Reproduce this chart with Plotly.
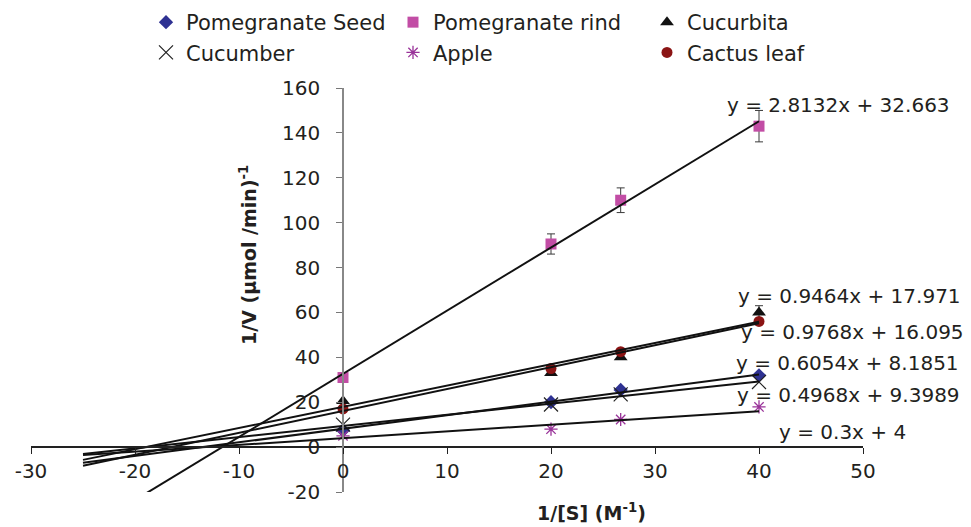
import plotly.graph_objects as go

# Lineweaver-Burk data: 1/[S] (M^-1) against 1/V for each enzyme source
inv_s = [0, 20, 26.7, 40]

seed = [7.5, 20, 25.5, 32]
rind = [31, 90.5, 110, 143]
cucurbita = [20.5, 33, 40, 60]
cucumber = [10, 19, 23.5, 29]
apple = [5, 8, 12.3, 17.9]
cactus = [17, 35, 42.5, 56]

rind_err = [0, 4.5, 5.5, 7]
cucurbita_err = [0, 0, 0, 3]

# Linear trendlines (forecast back to 1/[S] = -25)
names = ["Pomegranate Seed", "Pomegranate rind", "Cucurbita", "Cucumber", "Apple", "Cactus leaf"]
slopes = [0.6054, 2.8132, 0.9464, 0.4968, 0.3, 0.9768]
intercepts = [8.1851, 32.663, 17.971, 9.3989, 4, 16.095]
trend_x = [-25, 40]

x_ticks = [-30, -20, -10, 0, 10, 20, 30, 40, 50]
x_tick_text = ["-30", "-20", "-10", "0", "10", "20", "30", "40", "50"]
y_ticks = [-20, 0, 20, 40, 60, 80, 100, 120, 140, 160]
y_tick_text = ["-20", "0", "20", "40", "60", "80", "100", "120", "140", "160"]

FONT = "DejaVu Sans"
TXT = "#231F20"

fig = go.Figure()

def add_points(y, name, symbol, color, size, legend, err=None, line_w=0):
    marker = dict(symbol=symbol, color=color, size=size,
                  line=dict(width=line_w, color=color))
    kw = {}
    if err is not None:
        kw["error_y"] = dict(type="data", array=err, visible=True,
                             color="#3a3a3a", thickness=1, width=4)
    fig.add_trace(go.Scatter(x=inv_s, y=y, mode="markers", name=name,
                             marker=marker, legend=legend, **kw))

add_points(seed, names[0], "diamond", "#2E3192", 11, "legend")
add_points(cucumber, names[3], "x-thin-open", "#222222", 14, "legend", line_w=1.2)
add_points(rind, names[1], "square", "#C24DA5", 11, "legend2", err=rind_err)
add_points(apple, names[4], "asterisk-open", "#993399", 11, "legend2", line_w=1.3)
add_points(cucurbita, names[2], "triangle-up", "#111111", 12, "legend3", err=cucurbita_err)
add_points(cactus, names[5], "circle", "#8B1414", 11, "legend3")

# Trendlines drawn over the markers
for m, b in zip(slopes, intercepts):
    fig.add_trace(go.Scatter(x=trend_x, y=[m * x + b for x in trend_x],
                             mode="lines", line=dict(color="#111111", width=2),
                             showlegend=False, hoverinfo="skip"))

# Trendline equations
eq_pos = [(37.55, 37.4), (36.7, 152.4), (37.75, 67.3), (37.65, 23.2), (41.7, 6.8), (38.1, 51.4)]
for (ex, ey), m, b in zip(eq_pos, slopes, intercepts):
    fig.add_annotation(x=ex, y=ey, xref="x", yref="y", xanchor="left", yanchor="middle",
                       text=f"y = {m:g}x + {b:g}", showarrow=False,
                       font=dict(family=FONT, size=20, color=TXT))

# Axis titles
fig.add_annotation(x=(248 - 31) / 832, y=(492 - 255) / 404, xref="paper", yref="paper",
                   text="<b>1/V (µmol /min)<sup>-1</sup></b>", textangle=-90, showarrow=False,
                   xanchor="center", yanchor="middle",
                   font=dict(family=FONT, size=19, color=TXT))
fig.add_annotation(x=(591 - 31) / 832, y=(492 - 512) / 404, xref="paper", yref="paper",
                   text="<b>1/[S] (M<sup>-1</sup>)</b>", showarrow=False,
                   xanchor="center", yanchor="middle",
                   font=dict(family=FONT, size=19, color=TXT))

leg_common = dict(orientation="v", yanchor="top", xanchor="left", bgcolor="rgba(0,0,0,0)",
                  font=dict(family=FONT, size=21, color=TXT), itemwidth=30,
                  tracegroupgap=0)
leg_y = (492 - 2) / 404

fig.update_layout(
    width=971, height=527,
    margin=dict(l=31, r=108, t=88, b=35, autoexpand=False),
    paper_bgcolor="white", plot_bgcolor="white",
    showlegend=True,
    legend=dict(x=(146 - 31) / 832, y=leg_y, **leg_common),
    legend2=dict(x=(393 - 31) / 832, y=leg_y, **leg_common),
    legend3=dict(x=(647 - 31) / 832, y=leg_y, **leg_common),
    xaxis=dict(range=[-30, 50], tickvals=x_ticks, ticktext=x_tick_text,
               ticks="outside", ticklen=6,
               tickcolor="#222222", showline=True, linecolor="#222222", linewidth=1.5,
               showgrid=False, zeroline=False, anchor="free", position=20 / 180,
               tickfont=dict(family=FONT, size=20, color=TXT)),
    yaxis=dict(range=[-20, 160], tickvals=y_ticks, ticktext=y_tick_text,
               ticks="outside", ticklen=6,
               tickcolor="#777777", showline=True, linecolor="#888888", linewidth=1.5,
               showgrid=False, zeroline=False, anchor="free", position=30 / 80,
               ticklabelstandoff=12,
               tickfont=dict(family=FONT, size=20, color=TXT)),
)

fig.write_html("out.html")
